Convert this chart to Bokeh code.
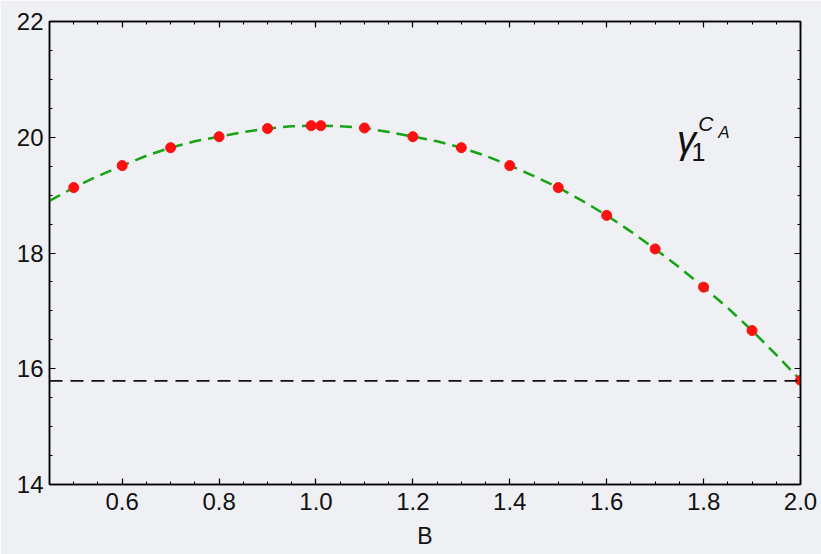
from bokeh.plotting import figure
from bokeh.models import (Range1d, LinearAxis, FixedTicker, CustomJSTickFormatter,
                          Span, Label)
from bokeh.embed import file_html
from bokeh.resources import INLINE

# ---- data ----
point_B = [0.5, 0.6, 0.7, 0.8, 0.9, 0.99, 1.01, 1.1, 1.2, 1.3, 1.4, 1.5,
           1.6, 1.7, 1.8, 1.9, 2.0]
point_gamma = [19.13, 19.51, 19.82, 20.01, 20.15, 20.20, 20.20, 20.16, 20.01,
               19.82, 19.51, 19.13, 18.65, 18.07, 17.41, 16.66, 15.80]

curve_B = [0.45, 0.50, 0.55, 0.60, 0.65, 0.70, 0.75, 0.80, 0.85, 0.90, 0.95,
           1.00, 1.05, 1.10, 1.15, 1.20, 1.25, 1.30, 1.35, 1.40, 1.45, 1.50,
           1.55, 1.60, 1.65, 1.70, 1.75, 1.80, 1.85, 1.90, 1.95, 2.00]
curve_gamma = [18.90, 19.13, 19.33, 19.51, 19.68, 19.82, 19.93, 20.01, 20.09,
               20.15, 20.19, 20.20, 20.19, 20.16, 20.09, 20.01, 19.93, 19.82,
               19.68, 19.51, 19.33, 19.13, 18.90, 18.65, 18.37, 18.07, 17.75,
               17.41, 17.05, 16.66, 16.24, 15.80]

asymptote = 15.79

x_major = [0.6, 0.8, 1.0, 1.2, 1.4, 1.6, 1.8, 2.0]
x_major_labels = ["0.6", "0.8", "1.0", "1.2", "1.4", "1.6", "1.8", "2.0"]
x_minor = [0.45 + 0.05 * i for i in range(32)]
y_major = [14, 16, 18, 20, 22]
y_major_labels = ["14", "16", "18", "20", "22"]
y_minor = [14 + 0.5 * i for i in range(17)]
x_label = "B"

BG = "#eff0f4"
FONT = "Liberation Sans"

p = figure(width=821, height=554, output_backend="svg", toolbar_location=None,
           x_range=Range1d(0.45, 2.0), y_range=Range1d(14, 22),
           x_axis_label=x_label,
           min_border_left=49, min_border_right=21,
           min_border_top=21, min_border_bottom=70)
p.background_fill_color = BG
p.border_fill_color = BG
p.grid.visible = False
p.outline_line_color = "black"
p.outline_line_width = 1.5

xt = FixedTicker(ticks=x_major, minor_ticks=x_minor)
yt = FixedTicker(ticks=y_major, minor_ticks=y_minor)


def style(ax, labels=True):
    ax.axis_line_color = "black"
    ax.axis_line_width = 1.5
    ax.major_tick_in = 6
    ax.major_tick_out = 0
    ax.minor_tick_in = 3
    ax.minor_tick_out = 0
    ax.major_tick_line_color = "black"
    ax.minor_tick_line_color = "black"
    ax.major_tick_line_width = 1.2
    ax.minor_tick_line_width = 1.0
    ax.major_label_text_font = FONT
    ax.major_label_text_font_size = "24px"
    ax.major_label_text_color = "#111111"
    ax.axis_label_text_font = FONT
    ax.axis_label_text_font_size = "23px"
    ax.axis_label_text_font_style = "normal"
    ax.axis_label_text_color = "#111111"
    if not labels:
        ax.formatter = CustomJSTickFormatter(code="return ''")
        ax.major_label_standoff = 0


p.xaxis.ticker = xt
p.yaxis.ticker = yt
style(p.xaxis[0])
style(p.yaxis[0])
p.xaxis.major_label_overrides = dict(zip(x_major, x_major_labels))
p.yaxis.major_label_overrides = dict(zip(y_major, y_major_labels))
p.xaxis.major_label_standoff = 8
p.yaxis.major_label_standoff = 6
p.xaxis.axis_label_standoff = 10

top = LinearAxis(ticker=xt)
right = LinearAxis(ticker=yt)
style(top, labels=False)
style(right, labels=False)
p.add_layout(top, "above")
p.add_layout(right, "right")

p.add_layout(Span(location=asymptote, dimension="width", line_color="#111111",
                  line_width=1.6, line_dash="13 8"))

p.line(curve_B, curve_gamma, line_color="#16a316", line_width=2.5,
       line_dash="12 7")
p.scatter(point_B, point_gamma, size=10, fill_color="#ff1010",
          line_color="#ff1010")

p.add_layout(Label(x=1.745, y=19.95, text="γ", text_font=FONT,
                   text_font_size="38px", text_font_style="italic",
                   text_color="#111111", text_baseline="alphabetic"))
p.add_layout(Label(x=1.775, y=19.75, text="1", text_font=FONT,
                   text_font_size="25px", text_color="#111111",
                   text_baseline="alphabetic"))
p.add_layout(Label(x=1.789, y=20.24, text="C", text_font=FONT,
                   text_font_size="21px", text_font_style="italic",
                   text_color="#111111", text_baseline="alphabetic"))
p.add_layout(Label(x=1.830, y=20.08, text="A", text_font=FONT,
                   text_font_size="17px", text_font_style="italic",
                   text_color="#111111", text_baseline="alphabetic"))

open("out.html", "w").write(file_html(p, INLINE))
